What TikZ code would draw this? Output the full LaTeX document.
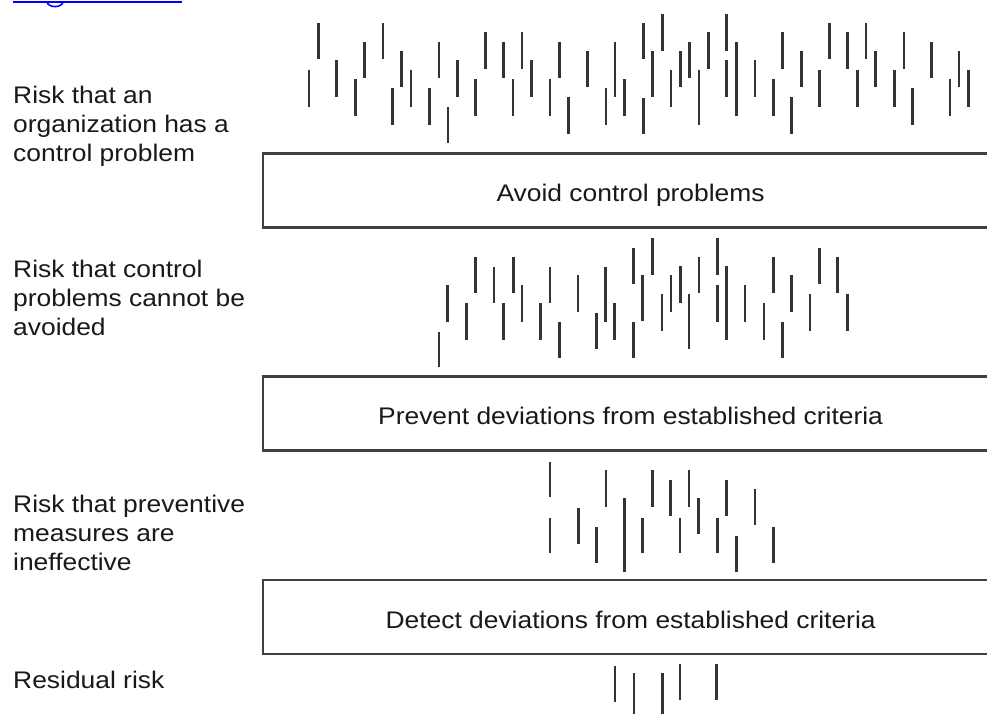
\documentclass[tikz,border=0pt]{standalone}
\usepackage{fontspec}
\setmainfont{Liberation Sans}[FakeStretch=1.1]
\begin{document}
\begin{tikzpicture}[x=1pt,y=-1pt,
  risklabel/.style={anchor=north west, inner sep=0pt, align=left,
    text=black!90, font=\fontsize{24}{29.2}\selectfont},
  stagebox/.style={draw=black!75, line width=2.2pt, anchor=west,
    minimum width=735pt, minimum height=74pt, inner sep=0pt,
    text height=22pt, text depth=0pt, text=black!90, font=\fontsize{24}{29}\selectfont},
  tick/.style={draw=black!80, line width=2.5pt},
  linkline/.style={draw=blue, line width=2pt}]
\useasboundingbox (0,0) rectangle (987,713);
\clip (0,0) rectangle (987,713);
\fill[white] (0,0) rectangle (987,713);

% hyperlink underline running off the top edge
\coordinate (linkA) at (13,1.6);
\coordinate (linkB) at (182,1.6);
\draw[linkline] (linkA) -- (linkB);
\draw[draw=blue, line width=1.6pt] (47,1.6) arc[start angle=180, end angle=0, x radius=8, y radius=5];

% risk labels on the left
\node[risklabel] (r1) at (13,86) {Risk that an\\organization has a\\control problem};
\node[risklabel] (r2) at (13,259.5) {Risk that control\\problems cannot be\\avoided};
\node[risklabel] (r3) at (13,494.5) {Risk that preventive\\measures are\\ineffective};
\node[risklabel] (r4) at (13,670.5) {Residual risk};

% control stages
\node[stagebox] (s1) at (262,190.5) {Avoid control problems};
\node[stagebox] (s2) at (262,413.5) {Prevent deviations from established criteria};
\node[stagebox] (s3) at (262,617) {Detect deviations from established criteria};

% risk marks before avoidance
\foreach \x/\a/\b in {309/70/107,318.3/23/59,336.7/60/97,355.3/79/116,364.7/42/78,
  383/23/59,392.7/88/125,401.3/51/87,411/70/107,429.3/88/125,439/42/78,448/107/143,
  457.3/60/97,475.7/79/116,485.3/32/69,503.3/42/78,513/79/116,522/32/69,531.3/60/97,
  550/79/116,559.3/42/78,568.7/97/134,587.7/51/87,606/88/125,615/42/97,624.3/79/116,
  643.3/23/59,643.3/98/134,662.3/14/51,652.7/51/97,671/70/107,680.7/51/87,689.3/42/78,
  699/70/125,708.7/32/69,726.7/14/51,726.7/60/97,736.7/42/116,755/60/97,773.3/79/116,
  782.7/32/69,791.7/97/134,801.3/51/87,819.3/70/107,829.3/23/59,847.3/32/69,
  857.3/70/107,866/23/59,875.7/51/87,894.3/70/107,904/32/69,912.7/88/125,931.7/42/78,
  950/79/116,959/51/87,968.3/70/107}
  \draw[tick] (\x,\a) -- (\x,\b);

% risk marks after avoidance
\foreach \x/\a/\b in {439/332/367,447.7/285/322,466.7/303/340,475.7/257/293,494/267/303,
  503.3/303/340,513.3/257/293,522/285/322,540.7/303/340,550/267/303,559.3/322/358,
  578/275/312,596.7/313/349,605.7/267/322,614.7/303/340,633.5/248/284,633.5/322/358,
  642.7/275/321,652.3/238/275,662/294/331,671/275/312,680.7/266/303,689/294/349,
  699/257/293,717.3/238/275,717.3/285/322,726.7/266/340,745/285/322,764/303/340,
  773.3/257/293,782.7/322/358,791.7/275/312,810/294/331,819.3/248/284,837.7/257/293,
  847.7/294/331}
  \draw[tick] (\x,\a) -- (\x,\b);

% risk marks after prevention
\foreach \x/\a/\b in {550/462/497,550/518/553,578.3/508/544,596.7/527/563,606/470/507,
  624.7/498/572,642.7/518/553,652.3/470/507,670.7/480/516,680/518/553,689/470/507,
  698.7/498/534,717.3/518/553,726.7/480/516,736.7/536/572,755/489/525,773.3/527/563}
  \draw[tick] (\x,\a) -- (\x,\b);

% residual risk marks
\foreach \x/\a/\b in {615/666/702,634/673/716,662.3/673/716,680/664/700,716.7/664/700}
  \draw[tick] (\x,\a) -- (\x,\b);
\end{tikzpicture}
\end{document}
